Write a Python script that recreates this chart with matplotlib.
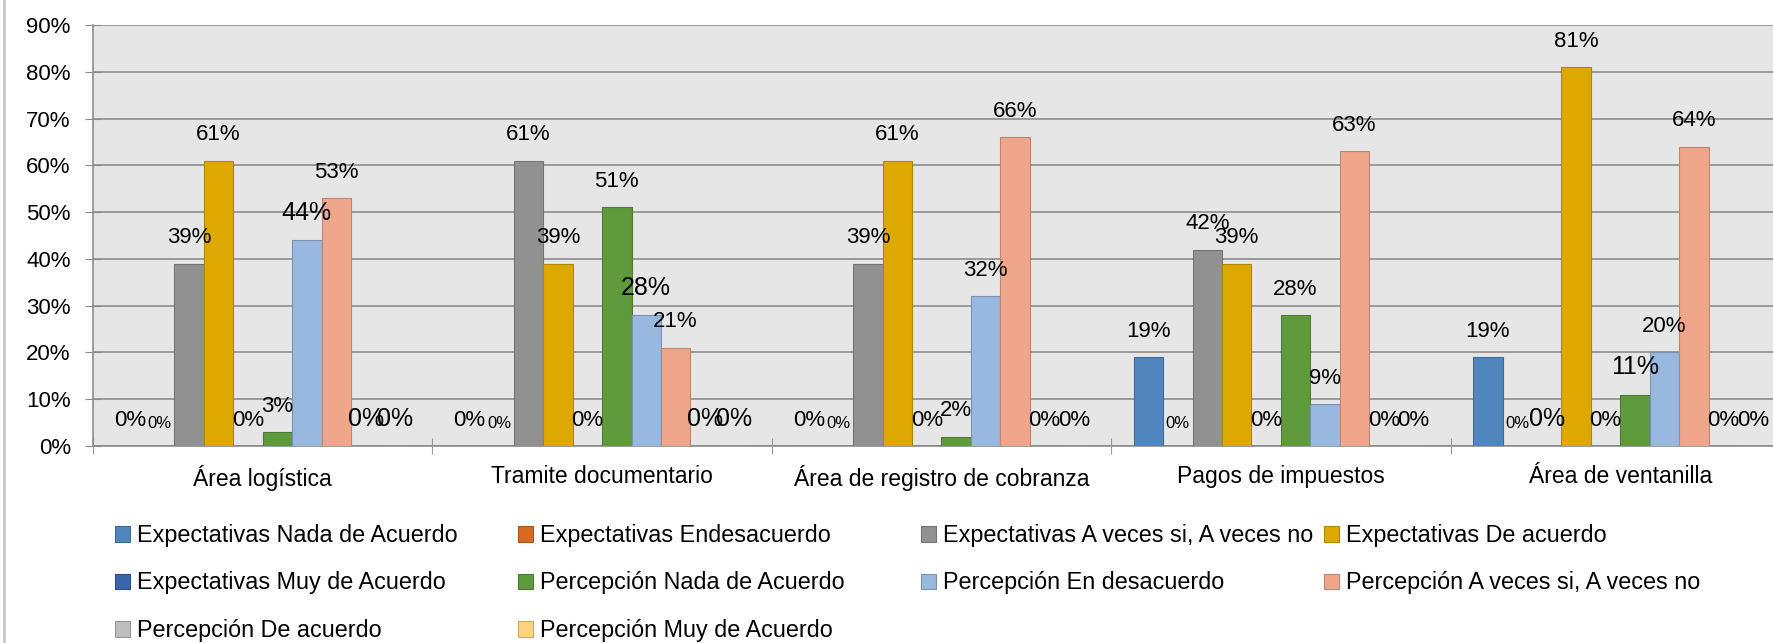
#!/usr/bin/env python3
"""
Expectativas vs Percepción por área - grouped bar chart
"""

import numpy as np
import matplotlib
matplotlib.use('Agg')  # Use non-interactive backend
import matplotlib.pyplot as plt
from matplotlib.colors import to_rgb
from matplotlib.lines import Line2D
from matplotlib.ticker import PercentFormatter

plt.rcParams['font.family'] = ['Liberation Sans', 'DejaVu Sans']

categories = ['Área logística', 'Tramite documentario', 'Área de registro de cobranza',
              'Pagos de impuestos', 'Área de ventanilla']

series_names = [
    'Expectativas Nada de Acuerdo',
    'Expectativas Endesacuerdo',
    'Expectativas A veces si, A veces no',
    'Expectativas De acuerdo',
    'Expectativas Muy de Acuerdo',
    'Percepción Nada de Acuerdo',
    'Percepción En desacuerdo',
    'Percepción A veces si, A veces no',
    'Percepción De acuerdo',
    'Percepción Muy de Acuerdo',
]

# values in %, one entry per category
exp_nada = [0, 0, 0, 19, 19]
exp_desacuerdo = [0, 0, 0, 0, 0]
exp_aveces = [39, 61, 39, 42, 0]
exp_acuerdo = [61, 39, 61, 39, 81]
exp_muy = [0, 0, 0, 0, 0]
per_nada = [3, 51, 2, 28, 11]
per_desacuerdo = [44, 28, 32, 9, 20]
per_aveces = [53, 21, 66, 63, 64]
per_acuerdo = [0, 0, 0, 0, 0]
per_muy = [0, 0, 0, 0, 0]

yticks = [0, 10, 20, 30, 40, 50, 60, 70, 80, 90]

series_values = [exp_nada, exp_desacuerdo, exp_aveces, exp_acuerdo, exp_muy,
                 per_nada, per_desacuerdo, per_aveces, per_acuerdo, per_muy]

colors = ['#4F86BE', '#D56A22', '#919191', '#DDA800', '#3B64AD',
          '#5F9B3D', '#98B8DF', '#EFA68A', '#BEBEBE', '#FFD280']

# label font sizes that differ from the default (category index, series index)
LABEL_SIZE = 16
SMALL_SIZE = 12
BIG_SIZE = 18
big_labels = {(0, 6), (0, 8), (0, 9), (1, 6), (1, 8), (1, 9), (4, 2), (4, 5)}


def darker(c, f=0.8):
    r, g, b = to_rgb(c)
    return (r * f, g * f, b * f)


W, H = 1774, 643
fig = plt.figure(figsize=(W / 100, H / 100), dpi=100)
ax = fig.add_axes([93 / W, 1 - 446 / H, 1697 / W, (446 - 25) / H])
ax.set_facecolor('#E6E6E6')

x = np.arange(len(categories))
n = len(series_values)
w = 0.0867

handles = []
for i, (vals, name, col) in enumerate(zip(series_values, series_names, colors)):
    pos = x + (i - (n - 1) / 2) * w
    bars = ax.bar(pos, vals, w, color=col, edgecolor=darker(col), linewidth=0.8,
                  label=name, zorder=3)
    handles.append(bars)
    for ci, (px, v) in enumerate(zip(pos, vals)):
        size = LABEL_SIZE
        if i == 1:
            size = SMALL_SIZE
        if (ci, i) in big_labels:
            size = BIG_SIZE
        ax.annotate(f'{v}%', (px, v), xytext=(0, 11), textcoords='offset points',
                    ha='center', va='bottom', fontsize=size, color='black', zorder=4)

ax.set_xlim(-0.5, len(categories) - 0.5)
ax.set_ylim(0, 90)
ax.set_yticks(yticks)
ax.yaxis.set_major_formatter(PercentFormatter(decimals=0))
ax.grid(axis='y', color='#8C8C8C', linewidth=1.2, zorder=1)
ax.set_axisbelow(True)

ax.set_xticks(np.arange(len(categories) + 1) - 0.5)
ax.set_xticklabels([])
ax.set_xticks(x, minor=True)
ax.set_xticklabels(categories, minor=True, fontsize=16.5)
ax.tick_params(axis='x', which='major', direction='inout', length=12, color='#9A9A9A')
ax.tick_params(axis='x', which='minor', length=0, pad=14)
ax.tick_params(axis='y', direction='inout', length=12, color='#8C8C8C',
               labelsize=16, pad=10)

for s in ['top', 'right']:
    ax.spines[s].set_visible(False)
ax.spines['left'].set_color('#8C8C8C')
ax.spines['bottom'].set_color('#8C8C8C')
ax.spines['left'].set_linewidth(1.2)
ax.spines['bottom'].set_linewidth(1.2)

# legend: four columns of equal width, filled row by row as in the reference
legend_cols = [[0, 4, 8], [1, 5, 9], [2, 6], [3, 7]]
col_left = [115, 518, 921, 1324]
for idx, xl in zip(legend_cols, col_left):
    fig.legend([handles[k] for k in idx], [series_names[k] for k in idx],
               loc='upper left', bbox_to_anchor=(xl / W, 1 - 524 / H),
               frameon=False, fontsize=16.8,
               handlelength=0.64, handleheight=0.64, handletextpad=0.3,
               labelspacing=1.05, borderaxespad=0, borderpad=0)

# chart border on the left
fig.add_artist(Line2D([4.5 / W, 4.5 / W], [0, 1], color='#C8C8C8', linewidth=2,
                      transform=fig.transFigure))

fig.savefig('out.png', dpi=100)
